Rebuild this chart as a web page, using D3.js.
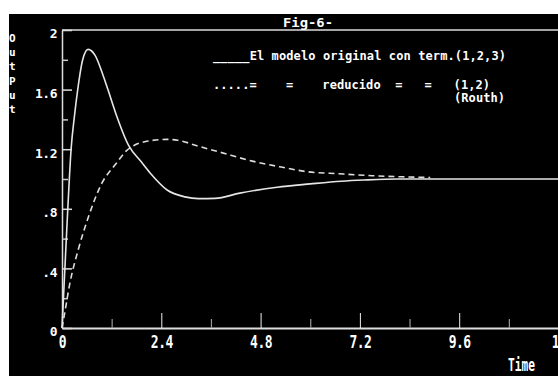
<!DOCTYPE html>
<html>
<head>
<meta charset="utf-8">
<script src="https://cdn.jsdelivr.net/npm/d3@7"></script>
<style>
  body { margin: 0; background: #fff; }
  svg { display: block; }
  text { font-family: "DejaVu Sans Mono", "Liberation Mono", monospace; font-weight: bold; fill: #fff; }
</style>
</head>
<body>
<div id="chart"></div>
<script>
// time points and output
const origTime = [0, 0.07, 0.14, 0.22, 0.3, 0.38, 0.5, 0.63, 0.8, 1.0, 1.11, 1.3, 1.62, 1.9, 2.13, 2.54, 2.97, 3.3, 3.7, 4.3, 5.2, 6.0, 6.75, 7.3, 8.1, 9.6, 12];
const origOut  = [0, 0.4, 0.8, 1.2, 1.42, 1.6, 1.8, 1.87, 1.83, 1.69, 1.6, 1.44, 1.22, 1.12, 1.04, 0.926, 0.88, 0.868, 0.87, 0.905, 0.945, 0.967, 0.985, 0.993, 1.0, 1.0, 1.0];

const redTime = [0, 0.05, 0.19, 0.39, 0.64, 0.96, 1.3, 1.56, 1.76, 2.0, 2.54, 2.8, 3.3, 3.82, 4.6, 5.3, 5.9, 6.7, 7.5, 8.2, 8.9];
const redOut  = [0, 0.076, 0.3, 0.523, 0.747, 0.97, 1.1, 1.19, 1.228, 1.25, 1.266, 1.26, 1.22, 1.18, 1.12, 1.08, 1.05, 1.035, 1.022, 1.015, 1.01];

const xMajor = [0, 2.4, 4.8, 7.2, 9.6, 12];
const xMinor = [1.2, 3.6, 6, 8.4, 10.8];
const yMajor = [0, 0.4, 0.8, 1.2, 1.6, 2];
const yMinor = [0.2, 0.6, 1.0, 1.4, 1.8];
const yLabels = ["0", ".4", ".8", "1.2", "1.6", "2"];

const W = 558, H = 376;
const svg = d3.select("#chart").append("svg").attr("width", W).attr("height", H);

svg.append("rect").attr("width", W).attr("height", H).attr("fill", "#fff");
svg.append("rect").attr("x", 9).attr("y", 14).attr("width", W - 9).attr("height", H - 14).attr("fill", "#000");

const x = d3.scaleLinear().domain([0, 12]).range([62, 558.5]);
const y = d3.scaleLinear().domain([0, 2]).range([328, 30]);

// top frame line
svg.append("line")
  .attr("x1", x(0)).attr("x2", W).attr("y1", y(2)).attr("y2", y(2))
  .attr("stroke", "#ddd").attr("stroke-width", 1.5);

// y axis
const yAxis = svg.append("g").attr("transform", `translate(${x(0)},0)`)
  .call(d3.axisLeft(y).tickValues(yMajor).tickSizeInner(-10).tickSizeOuter(0).tickPadding(5)
    .tickFormat((d, i) => yLabels[i]));
yAxis.select(".domain").attr("stroke", "#ddd").attr("stroke-width", 1.5);
yAxis.selectAll(".tick line").attr("stroke", "#ddd").attr("stroke-width", 1.5);
yAxis.selectAll(".tick text").attr("dy", "0.6em").style("font-size", "13px").style("letter-spacing", "-0.5px").attr("fill", "#fff");

const yMin = svg.append("g").attr("transform", `translate(${x(0)},0)`)
  .call(d3.axisLeft(y).tickValues(yMinor).tickSizeInner(-6).tickSizeOuter(0).tickFormat(""));
yMin.select(".domain").remove();
yMin.selectAll(".tick line").attr("stroke", "#ccc").attr("stroke-width", 1.5);

// x axis
const xAxis = svg.append("g").attr("transform", `translate(0,${y(0)})`)
  .call(d3.axisBottom(x).tickValues(xMajor).tickSizeInner(-15).tickSizeOuter(0).tickFormat(d => d === 0 ? "0" : (d === 12 ? "12" : d.toFixed(1))));
xAxis.select(".domain").attr("stroke", "#ddd").attr("stroke-width", 2);
xAxis.selectAll(".tick line").attr("stroke", "#eee").attr("stroke-width", 1);
xAxis.selectAll(".tick text")
  .attr("y", 0).attr("dy", null)
  .attr("transform", "translate(0,20) scale(1,1.35)")
  .style("font-size", "13px").style("letter-spacing", "-0.5px").attr("fill", "#fff");

const xMin = svg.append("g").attr("transform", `translate(0,${y(0)})`)
  .call(d3.axisBottom(x).tickValues(xMinor).tickSizeInner(-9).tickSizeOuter(0).tickFormat(""));
xMin.select(".domain").remove();
xMin.selectAll(".tick line").attr("stroke", "#999").attr("stroke-width", 1.2);

// curves
const line = d3.line().x(d => x(d[0])).y(d => y(d[1])).curve(d3.curveMonotoneX);

svg.append("path")
  .datum(redTime.map((t, i) => [t, redOut[i]]))
  .attr("d", line)
  .attr("fill", "none").attr("stroke", "#ddd").attr("stroke-width", 1.6)
  .attr("stroke-dasharray", "6,4");

svg.append("path")
  .datum(origTime.map((t, i) => [t, origOut[i]]))
  .attr("d", line)
  .attr("fill", "none").attr("stroke", "#e6e6e6").attr("stroke-width", 1.6);

// title and legend
svg.append("text").attr("x", 283).attr("y", 27)
  .attr("textLength", 50).attr("lengthAdjust", "spacingAndGlyphs")
  .style("font-size", "12px").text("Fig-6-");

svg.append("text").attr("x", 213).attr("y", 60)
  .attr("xml:space", "preserve").style("white-space", "pre")
  .attr("textLength", 293).attr("lengthAdjust", "spacing")
  .style("font-size", "12px").text("_____El modelo original con term.(1,2,3)");

svg.append("text").attr("x", 213).attr("y", 89)
  .attr("xml:space", "preserve").style("white-space", "pre")
  .attr("textLength", 277).attr("lengthAdjust", "spacing")
  .style("font-size", "12px").text(".....=    =    reducido  =   =   (1,2)");

svg.append("text").attr("x", 454).attr("y", 102)
  .attr("textLength", 51).attr("lengthAdjust", "spacing")
  .style("font-size", "12px").text("(Routh)");

// x axis title
svg.append("text").attr("x", 508).attr("y", 0)
  .attr("transform", "translate(0,371) scale(1,1.35)")
  .attr("textLength", 27).attr("lengthAdjust", "spacingAndGlyphs")
  .style("font-size", "13px").text("Time");

// stacked y axis title, one letter per line
const yTitle = ["O", "u", "t", "P", "u", "t"];
const yTitleBase = [42, 56, 70, 85, 99, 113];
svg.selectAll("text.ylet").data(yTitle).enter().append("text")
  .attr("class", "ylet")
  .attr("x", 9).attr("y", (d, i) => yTitleBase[i])
  .style("font-size", "11px").text(d => d);

// white margin strips drawn last
svg.append("rect").attr("x", 0).attr("y", 0).attr("width", 9).attr("height", H).attr("fill", "#fff");
svg.append("rect").attr("x", 0).attr("y", 0).attr("width", W).attr("height", 14).attr("fill", "#fff");
</script>
</body>
</html>
